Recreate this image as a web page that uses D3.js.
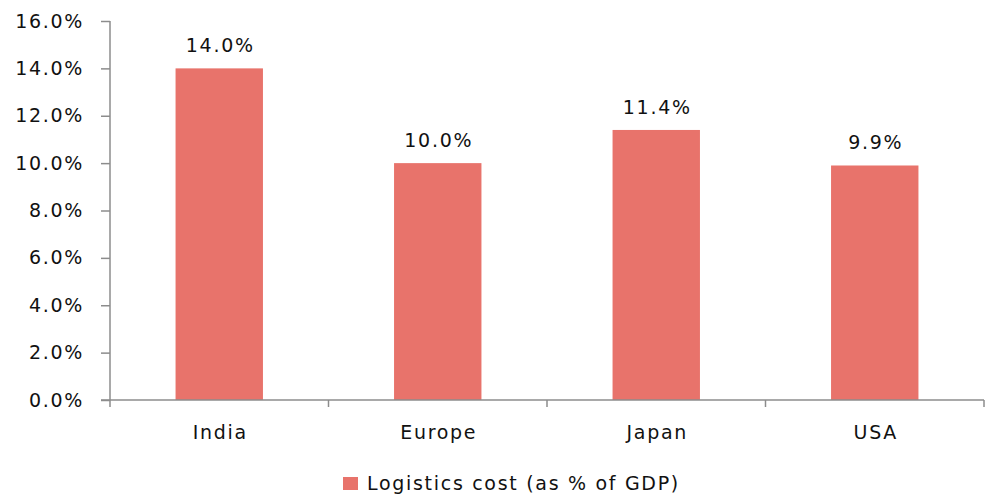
<!DOCTYPE html>
<html>
<head>
<meta charset="utf-8">
<script src="https://cdn.jsdelivr.net/npm/d3@7"></script>
<style>
  body { margin: 0; background: #fff; }
  text { font-family: "DejaVu Sans", sans-serif; fill: #111; letter-spacing: 1.7px; }
</style>
</head>
<body>
<div id="chart"></div>
<script>
// Chart data
const categories = ["India", "Europe", "Japan", "USA"];
const costValues = [14.0, 10.0, 11.4, 9.9];
const yTicks = [0, 2, 4, 6, 8, 10, 12, 14, 16];
const seriesName = "Logistics cost (as % of GDP)";

const width = 989, height = 496;
const margin = { top: 21, right: 5, bottom: 96, left: 110 };

const svg = d3.select("#chart").append("svg")
    .attr("width", width)
    .attr("height", height);

// Scales
const x = d3.scaleBand()
    .domain(categories)
    .range([margin.left, width - margin.right])
    .padding(0);

const y = d3.scaleLinear()
    .domain([0, 16])
    .range([height - margin.bottom, margin.top]);

const barColor = "#e8736b";
const axisColor = "#8c8c8c";
const barW = x.bandwidth() * 0.4;

// Y axis
const yAxis = svg.append("g")
    .attr("transform", `translate(${margin.left},0)`)
    .call(d3.axisLeft(y).tickValues(yTicks).tickSize(9).tickPadding(17)
        .tickFormat(d => d.toFixed(1) + "%"));
yAxis.selectAll("line, path").attr("stroke", axisColor).attr("stroke-width", 1.5);
yAxis.select(".domain").attr("d", `M0,${y(16)}V${y(0) + 7}`);
yAxis.selectAll("text").style("font-size", "19px").attr("fill", "#111");

// Bars
svg.selectAll("rect.bar")
    .data(categories)
    .join("rect")
    .attr("class", "bar")
    .attr("x", d => x(d) + (x.bandwidth() - barW) / 2)
    .attr("y", (d, i) => y(costValues[i]))
    .attr("width", barW)
    .attr("height", (d, i) => y(0) - y(costValues[i]))
    .attr("fill", barColor);

// X axis
const xAxis = svg.append("g")
    .attr("transform", `translate(0,${y(0)})`);
xAxis.append("line")
    .attr("x1", margin.left - 9).attr("x2", width - margin.right)
    .attr("stroke", axisColor).attr("stroke-width", 1.5);
xAxis.selectAll("line.tick")
    .data(categories)
    .join("line")
    .attr("class", "tick")
    .attr("x1", d => x(d) + x.bandwidth()).attr("x2", d => x(d) + x.bandwidth())
    .attr("y1", 0).attr("y2", 7)
    .attr("stroke", axisColor).attr("stroke-width", 1.5);
xAxis.selectAll("text")
    .data(categories)
    .join("text")
    .attr("x", d => x(d) + x.bandwidth() / 2 + 1)
    .attr("y", 39)
    .attr("text-anchor", "middle")
    .style("font-size", "19px")
    .text(d => d);

// Value labels
svg.selectAll("text.value")
    .data(categories)
    .join("text")
    .attr("class", "value")
    .attr("x", d => x(d) + x.bandwidth() / 2 + 1)
    .attr("y", (d, i) => y(costValues[i]) - 16)
    .attr("text-anchor", "middle")
    .style("font-size", "19px")
    .text((d, i) => costValues[i].toFixed(1) + "%");

// Legend
const legend = svg.append("g").attr("transform", "translate(343,477)");
legend.append("rect")
    .attr("width", 15).attr("height", 13)
    .attr("fill", barColor);
legend.append("text")
    .attr("x", 24).attr("y", 13)
    .style("font-size", "19px")
    .text(seriesName);
</script>
</body>
</html>
